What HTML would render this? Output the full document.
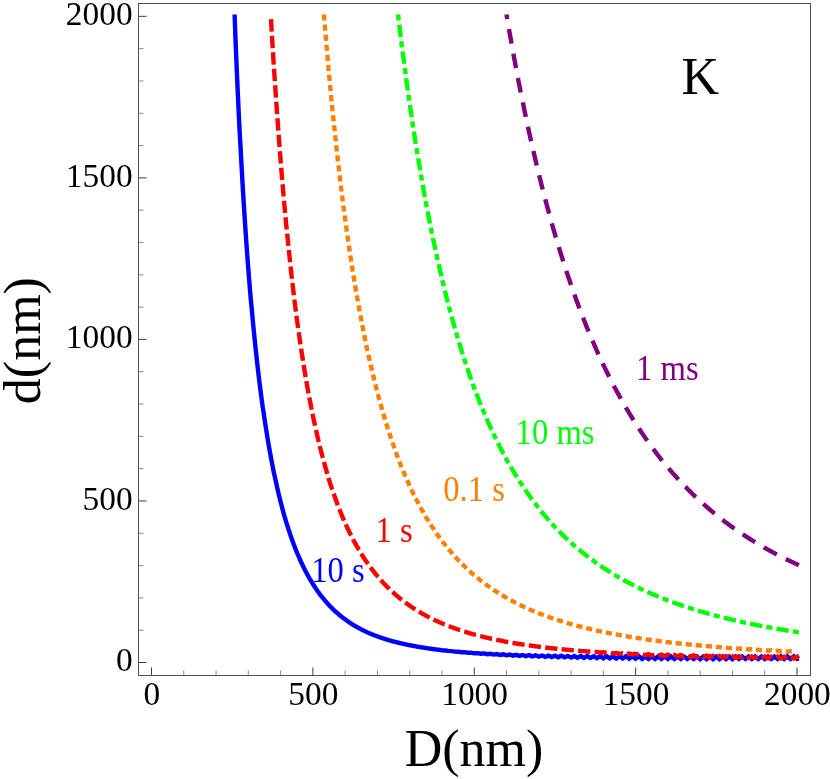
<!DOCTYPE html>
<html><head><meta charset="utf-8"><title>K</title>
<style>
html,body{margin:0;padding:0;background:#fff;}
body{width:830px;height:779px;overflow:hidden;}
svg{display:block;will-change:transform;font-family:"Liberation Serif",serif;}
.mj{stroke:#3c3c3c;stroke-width:1;}
.mn{stroke:#8a8a8a;stroke-width:1;}
.tk{font-size:33px;fill:#000;}
.ax{font-size:52px;fill:#000;}
.cl{font-size:33px;}
.c{fill:none;stroke-width:4.4;stroke-linejoin:miter;}
</style></head><body>
<svg width="830" height="779" viewBox="0 0 830 779">
<rect x="0" y="0" width="830" height="779" fill="#fff"/>
<g>
<line class="mj" x1="138.5" y1="662.50" x2="146.5" y2="662.50"/>
<line class="mn" x1="138.5" y1="630.19" x2="143.5" y2="630.19"/>
<line class="mn" x1="138.5" y1="597.88" x2="143.5" y2="597.88"/>
<line class="mn" x1="138.5" y1="565.58" x2="143.5" y2="565.58"/>
<line class="mn" x1="138.5" y1="533.27" x2="143.5" y2="533.27"/>
<line class="mj" x1="138.5" y1="500.96" x2="146.5" y2="500.96"/>
<line class="mn" x1="138.5" y1="468.65" x2="143.5" y2="468.65"/>
<line class="mn" x1="138.5" y1="436.34" x2="143.5" y2="436.34"/>
<line class="mn" x1="138.5" y1="404.04" x2="143.5" y2="404.04"/>
<line class="mn" x1="138.5" y1="371.73" x2="143.5" y2="371.73"/>
<line class="mj" x1="138.5" y1="339.42" x2="146.5" y2="339.42"/>
<line class="mn" x1="138.5" y1="307.11" x2="143.5" y2="307.11"/>
<line class="mn" x1="138.5" y1="274.80" x2="143.5" y2="274.80"/>
<line class="mn" x1="138.5" y1="242.50" x2="143.5" y2="242.50"/>
<line class="mn" x1="138.5" y1="210.19" x2="143.5" y2="210.19"/>
<line class="mj" x1="138.5" y1="177.88" x2="146.5" y2="177.88"/>
<line class="mn" x1="138.5" y1="145.57" x2="143.5" y2="145.57"/>
<line class="mn" x1="138.5" y1="113.26" x2="143.5" y2="113.26"/>
<line class="mn" x1="138.5" y1="80.96" x2="143.5" y2="80.96"/>
<line class="mn" x1="138.5" y1="48.65" x2="143.5" y2="48.65"/>
<line class="mj" x1="138.5" y1="16.34" x2="146.5" y2="16.34"/>
<line class="mj" x1="151.50" y1="675.5" x2="151.50" y2="667.5"/>
<line class="mn" x1="183.78" y1="675.5" x2="183.78" y2="670.5"/>
<line class="mn" x1="216.05" y1="675.5" x2="216.05" y2="670.5"/>
<line class="mn" x1="248.32" y1="675.5" x2="248.32" y2="670.5"/>
<line class="mn" x1="280.60" y1="675.5" x2="280.60" y2="670.5"/>
<line class="mj" x1="312.88" y1="675.5" x2="312.88" y2="667.5"/>
<line class="mn" x1="345.15" y1="675.5" x2="345.15" y2="670.5"/>
<line class="mn" x1="377.42" y1="675.5" x2="377.42" y2="670.5"/>
<line class="mn" x1="409.70" y1="675.5" x2="409.70" y2="670.5"/>
<line class="mn" x1="441.97" y1="675.5" x2="441.97" y2="670.5"/>
<line class="mj" x1="474.25" y1="675.5" x2="474.25" y2="667.5"/>
<line class="mn" x1="506.52" y1="675.5" x2="506.52" y2="670.5"/>
<line class="mn" x1="538.80" y1="675.5" x2="538.80" y2="670.5"/>
<line class="mn" x1="571.08" y1="675.5" x2="571.08" y2="670.5"/>
<line class="mn" x1="603.35" y1="675.5" x2="603.35" y2="670.5"/>
<line class="mj" x1="635.62" y1="675.5" x2="635.62" y2="667.5"/>
<line class="mn" x1="667.90" y1="675.5" x2="667.90" y2="670.5"/>
<line class="mn" x1="700.17" y1="675.5" x2="700.17" y2="670.5"/>
<line class="mn" x1="732.45" y1="675.5" x2="732.45" y2="670.5"/>
<line class="mn" x1="764.72" y1="675.5" x2="764.72" y2="670.5"/>
<line class="mj" x1="797.00" y1="675.5" x2="797.00" y2="667.5"/>
</g>
<rect x="138.5" y="3.5" width="672.0" height="672.0" fill="none" stroke="#505050" stroke-width="1"/>
<g>
<text class="tk" text-anchor="end" transform="translate(132.6,671.1) scale(1.012,1.05)">0</text>
<text class="tk" text-anchor="middle" transform="translate(151.9,704.9) scale(1.012,1.05)">0</text>
<text class="tk" text-anchor="end" transform="translate(132.6,509.6) scale(1.012,1.05)">500</text>
<text class="tk" text-anchor="middle" transform="translate(313.3,704.9) scale(1.012,1.05)">500</text>
<text class="tk" text-anchor="end" transform="translate(132.6,348.0) scale(1.012,1.05)">1000</text>
<text class="tk" text-anchor="middle" transform="translate(474.6,704.9) scale(1.012,1.05)">1000</text>
<text class="tk" text-anchor="end" transform="translate(132.6,186.5) scale(1.012,1.05)">1500</text>
<text class="tk" text-anchor="middle" transform="translate(636.0,704.9) scale(1.012,1.05)">1500</text>
<text class="tk" text-anchor="end" transform="translate(132.6,24.9) scale(1.012,1.05)">2000</text>
<text class="tk" text-anchor="middle" transform="translate(797.4,704.9) scale(1.012,1.05)">2000</text>
</g>
<text class="ax" text-anchor="middle" x="474" y="765.5">D(nm)</text>
<text class="ax" text-anchor="middle" transform="translate(40.4,340.6) rotate(-90)">d(nm)</text>
<text class="ax" x="681.5" y="94.3">K</text>
<path class="c" stroke="#0000ff" d="M234.6,14.5 L235.4,36.3 L236.2,56.2 L237.0,75.1 L237.8,93.2 L238.6,110.4 L239.4,126.9 L240.3,142.6 L241.1,157.7 L241.9,172.2 L242.7,186.0 L243.5,199.3 L244.3,212.1 L245.1,224.3 L245.9,236.1 L246.7,247.4 L247.5,258.3 L248.3,268.9 L249.1,279.0 L249.9,288.8 L250.7,298.2 L251.6,307.3 L252.4,316.1 L253.2,324.6 L254.0,332.8 L254.8,340.7 L255.6,348.4 L256.4,355.8 L257.2,363.0 L258.0,370.0 L258.8,376.7 L259.6,383.3 L260.4,389.6 L261.2,395.8 L262.0,401.8 L262.8,407.6 L263.7,413.2 L264.5,418.7 L265.3,424.0 L266.1,429.2 L266.9,434.2 L267.7,439.1 L268.5,443.8 L269.3,448.4 L270.1,452.9 L270.9,457.3 L271.7,461.6 L272.5,465.7 L273.3,469.7 L274.1,473.7 L275.0,477.5 L275.8,481.2 L276.6,484.9 L277.4,488.4 L278.2,491.9 L279.0,495.2 L279.8,498.5 L280.6,501.7 L281.4,504.8 L282.2,507.9 L283.0,510.9 L283.8,513.8 L284.6,516.6 L285.4,519.4 L286.2,522.1 L287.1,524.7 L287.9,527.3 L288.7,529.8 L289.5,532.2 L290.3,534.6 L291.1,537.0 L291.9,539.3 L292.7,541.5 L293.5,543.7 L294.3,545.8 L295.1,547.9 L295.9,550.0 L296.7,552.0 L297.5,553.9 L298.4,555.8 L299.2,557.7 L300.0,559.5 L300.8,561.3 L301.6,563.1 L302.4,564.8 L303.2,566.5 L304.0,568.1 L304.8,569.7 L305.6,571.3 L306.4,572.8 L307.2,574.3 L308.0,575.8 L308.8,577.2 L309.6,578.6 L310.5,580.0 L311.3,581.4 L312.1,582.7 L312.9,584.0 L313.7,585.3 L314.5,586.5 L315.3,587.7 L316.1,588.9 L316.9,590.1 L317.7,591.3 L318.5,592.4 L319.3,593.5 L320.1,594.6 L320.9,595.6 L321.8,596.7 L322.6,597.7 L323.4,598.7 L324.2,599.6 L325.0,600.6 L325.8,601.5 L326.6,602.5 L327.4,603.4 L328.2,604.3 L329.0,605.1 L329.8,606.0 L330.6,606.8 L331.4,607.6 L332.2,608.4 L333.0,609.2 L333.9,610.0 L334.7,610.8 L335.5,611.5 L336.3,612.2 L337.1,612.9 L337.9,613.7 L338.7,614.3 L339.5,615.0 L340.3,615.7 L341.1,616.3 L341.9,617.0 L342.7,617.6 L343.5,618.2 L344.3,618.8 L345.2,619.4 L346.0,620.0 L346.8,620.6 L347.6,621.2 L348.4,621.7 L349.2,622.3 L350.0,622.8 L350.8,623.3 L351.6,623.8 L352.4,624.3 L353.2,624.8 L354.0,625.3 L354.8,625.8 L355.6,626.3 L356.4,626.7 L357.3,627.2 L358.1,627.6 L358.9,628.1 L359.7,628.5 L360.5,628.9 L361.3,629.4 L362.1,629.8 L362.9,630.2 L363.7,630.6 L364.5,631.0 L365.3,631.3 L366.1,631.7 L366.9,632.1 L367.7,632.5 L368.5,632.8 L369.4,633.2 L370.2,633.5 L371.0,633.9 L371.8,634.2 L372.6,634.5 L373.4,634.9 L374.2,635.2 L375.0,635.5 L375.8,635.8 L376.6,636.1 L377.4,636.4 L378.2,636.7 L379.0,637.0 L379.8,637.3 L380.7,637.5 L381.5,637.8 L382.3,638.1 L383.1,638.4 L383.9,638.6 L384.7,638.9 L385.5,639.1 L386.3,639.4 L387.1,639.6 L387.9,639.9 L388.7,640.1 L389.5,640.4 L390.3,640.6 L391.1,640.8 L391.9,641.0 L392.8,641.3 L393.6,641.5 L394.4,641.7 L395.2,641.9 L396.0,642.1 L396.8,642.3 L397.6,642.5 L398.4,642.7 L399.2,642.9 L400.0,643.1 L400.8,643.3 L401.6,643.5 L402.4,643.7 L403.2,643.9 L404.1,644.0 L404.9,644.2 L405.7,644.4 L406.5,644.6 L407.3,644.7 L408.1,644.9 L408.9,645.1 L409.7,645.2 L410.5,645.4 L411.3,645.5 L412.1,645.7 L412.9,645.9 L413.7,646.0 L414.5,646.2 L415.3,646.3 L416.2,646.4 L417.0,646.6 L417.8,646.7 L418.6,646.9 L419.4,647.0 L420.2,647.1 L421.0,647.3 L421.8,647.4 L422.6,647.5 L423.4,647.7 L424.2,647.8 L425.0,647.9 L425.8,648.0 L426.6,648.1 L427.5,648.3 L428.3,648.4 L429.1,648.5 L429.9,648.6 L430.7,648.7 L431.5,648.8 L432.3,648.9 L433.1,649.1 L433.9,649.2 L434.7,649.3 L435.5,649.4 L436.3,649.5 L437.1,649.6 L437.9,649.7 L438.7,649.8 L439.6,649.9 L440.4,650.0 L441.2,650.1 L442.0,650.2 L445.2,650.5 L448.4,650.9 L451.7,651.1 L454.9,651.6 L458.1,651.7 L461.3,652.2 L464.6,652.2 L467.8,652.8 L471.0,652.6 L474.2,653.3 L477.5,653.1 L480.7,653.7 L483.9,653.4 L487.2,654.2 L490.4,653.8 L493.6,654.6 L496.8,654.1 L500.1,654.9 L503.3,654.3 L506.5,655.3 L509.8,654.6 L513.0,655.6 L516.2,654.8 L519.4,655.9 L522.7,655.0 L525.9,656.2 L529.1,655.2 L532.3,656.4 L535.6,655.3 L538.8,656.6 L542.0,655.5 L545.3,656.9 L548.5,655.6 L551.7,657.1 L554.9,655.7 L558.2,657.3 L561.4,655.8 L564.6,657.4 L567.8,655.9 L571.1,657.6 L574.3,656.0 L577.5,657.8 L580.8,656.0 L584.0,657.9 L587.2,656.1 L590.4,658.0 L593.7,656.2 L596.9,658.2 L600.1,656.2 L603.3,658.3 L606.6,656.2 L609.8,658.4 L613.0,656.3 L616.3,658.5 L619.5,656.3 L622.7,658.6 L625.9,656.3 L629.2,658.7 L632.4,656.3 L635.6,658.8 L638.9,656.3 L642.1,658.9 L645.3,656.4 L648.5,658.9 L651.8,656.4 L655.0,658.9 L658.2,656.4 L661.4,659.0 L664.7,656.5 L667.9,659.0 L671.1,656.5 L674.4,659.0 L677.6,656.5 L680.8,659.0 L684.0,656.5 L687.3,659.0 L690.5,656.5 L693.7,659.0 L696.9,656.6 L700.2,659.1 L703.4,656.6 L706.6,659.1 L709.9,656.6 L713.1,659.1 L716.3,656.6 L719.5,659.1 L722.8,656.6 L726.0,659.1 L729.2,656.6 L732.4,659.1 L735.7,656.5 L738.9,659.0 L742.1,656.5 L745.4,659.0 L748.6,656.5 L751.8,659.0 L755.0,656.5 L758.3,659.0 L761.5,656.5 L764.7,659.0 L768.0,656.5 L771.2,659.0 L774.4,656.5 L777.6,658.9 L780.9,656.4 L784.1,658.9 L787.3,656.4 L790.5,658.9 L793.8,656.4 L797.0,658.9 L799.0,658.6"/>
<path class="c" stroke="#ff0000" stroke-dasharray="12.305 4.236" stroke-dashoffset="12.305" d="M270.8,15.0 L271.7,31.6 L272.5,44.9 L273.3,57.9 L274.1,70.5 L275.0,82.8 L275.8,94.8 L276.6,106.4 L277.4,117.8 L278.2,128.8 L279.0,139.5 L279.8,150.0 L280.6,160.2 L281.4,170.1 L282.2,179.8 L283.0,189.2 L283.8,198.4 L284.6,207.3 L285.4,216.0 L286.2,224.5 L287.1,232.8 L287.9,240.9 L288.7,248.8 L289.5,256.5 L290.3,264.0 L291.1,271.3 L291.9,278.4 L292.7,285.4 L293.5,292.2 L294.3,298.8 L295.1,305.3 L295.9,311.6 L296.7,317.7 L297.5,323.8 L298.4,329.7 L299.2,335.4 L300.0,341.0 L300.8,346.5 L301.6,351.9 L302.4,357.1 L303.2,362.2 L304.0,367.2 L304.8,372.1 L305.6,376.9 L306.4,381.6 L307.2,386.2 L308.0,390.7 L308.8,395.1 L309.6,399.3 L310.5,403.5 L311.3,407.7 L312.1,411.7 L312.9,415.6 L313.7,419.5 L314.5,423.2 L315.3,426.9 L316.1,430.5 L316.9,434.1 L317.7,437.6 L318.5,441.0 L319.3,444.3 L320.1,447.5 L320.9,450.7 L321.8,453.9 L322.6,457.0 L323.4,460.0 L324.2,462.9 L325.0,465.8 L325.8,468.7 L326.6,471.4 L327.4,474.2 L328.2,476.8 L329.0,479.5 L329.8,482.1 L330.6,484.6 L331.4,487.1 L332.2,489.5 L333.0,491.9 L333.9,494.2 L334.7,496.5 L335.5,498.8 L336.3,501.0 L337.1,503.2 L337.9,505.4 L338.7,507.5 L339.5,509.5 L340.3,511.6 L341.1,513.5 L341.9,515.5 L342.7,517.4 L343.5,519.3 L344.3,521.2 L345.2,523.0 L346.0,524.8 L346.8,526.6 L347.6,528.3 L348.4,530.0 L349.2,531.7 L350.0,533.3 L350.8,535.0 L351.6,536.6 L352.4,538.1 L353.2,539.7 L354.0,541.2 L354.8,542.7 L355.6,544.1 L356.4,545.6 L357.3,547.0 L358.1,548.4 L358.9,549.8 L359.7,551.1 L360.5,552.5 L361.3,553.8 L362.1,555.1 L362.9,556.3 L363.7,557.6 L364.5,558.8 L365.3,560.0 L366.1,561.2 L366.9,562.4 L367.7,563.6 L368.5,564.7 L369.4,565.8 L370.2,566.9 L371.0,568.0 L371.8,569.1 L372.6,570.2 L373.4,571.2 L374.2,572.2 L375.0,573.2 L375.8,574.2 L376.6,575.2 L377.4,576.2 L378.2,577.1 L379.0,578.1 L379.8,579.0 L380.7,579.9 L381.5,580.8 L382.3,581.7 L383.1,582.6 L383.9,583.5 L384.7,584.3 L385.5,585.1 L386.3,586.0 L387.1,586.8 L387.9,587.6 L388.7,588.4 L389.5,589.2 L390.3,589.9 L391.1,590.7 L391.9,591.5 L392.8,592.2 L393.6,592.9 L394.4,593.6 L395.2,594.4 L396.0,595.1 L396.8,595.8 L397.6,596.4 L398.4,597.1 L399.2,597.8 L400.0,598.4 L400.8,599.1 L401.6,599.7 L402.4,600.4 L403.2,601.0 L404.1,601.6 L404.9,602.2 L405.7,602.8 L406.5,603.4 L407.3,604.0 L408.1,604.5 L408.9,605.1 L409.7,605.7 L410.5,606.2 L411.3,606.8 L412.1,607.3 L412.9,607.9 L413.7,608.4 L414.5,608.9 L415.3,609.4 L416.2,609.9 L417.0,610.4 L417.8,610.9 L418.6,611.4 L419.4,611.9 L420.2,612.4 L421.0,612.9 L421.8,613.3 L422.6,613.8 L423.4,614.2 L424.2,614.7 L425.0,615.1 L425.8,615.6 L426.6,616.0 L427.5,616.4 L428.3,616.8 L429.1,617.3 L429.9,617.7 L430.7,618.1 L431.5,618.5 L432.3,618.9 L433.1,619.3 L433.9,619.7 L434.7,620.1 L435.5,620.4 L436.3,620.8 L437.1,621.2 L437.9,621.6 L438.7,621.9 L439.6,622.3 L440.4,622.6 L441.2,623.0 L442.0,623.3 L442.8,623.7 L443.6,624.0 L444.4,624.4 L445.2,624.7 L446.0,625.0 L446.8,625.3 L447.6,625.7 L448.4,626.0 L449.2,626.3 L450.0,626.6 L450.9,626.9 L451.7,627.2 L452.5,627.5 L453.3,627.8 L454.1,628.1 L454.9,628.4 L455.7,628.7 L456.5,629.0 L457.3,629.2 L458.1,629.5 L458.9,629.8 L459.7,630.1 L460.5,630.3 L461.3,630.6 L462.1,630.9 L463.0,631.1 L463.8,631.4 L464.6,631.6 L465.4,631.9 L466.2,632.1 L467.0,632.4 L467.8,632.6 L468.6,632.9 L469.4,633.1 L470.2,633.3 L471.0,633.6 L471.8,633.8 L472.6,634.0 L473.4,634.3 L474.2,634.5 L475.1,634.7 L475.9,634.9 L476.7,635.1 L477.5,635.3 L478.3,635.6 L479.1,635.8 L479.9,636.0 L480.7,636.2 L481.5,636.4 L482.3,636.6 L483.1,636.8 L483.9,637.0 L484.7,637.2 L485.5,637.4 L486.4,637.6 L487.2,637.8 L488.0,637.9 L488.8,638.1 L489.6,638.3 L490.4,638.5 L491.2,638.7 L492.0,638.9 L492.8,639.0 L493.6,639.2 L494.4,639.4 L495.2,639.6 L496.0,639.7 L496.8,639.9 L497.6,640.1 L498.5,640.2 L499.3,640.4 L500.1,640.5 L500.9,640.7 L501.7,640.9 L502.5,641.0 L503.3,641.2 L504.1,641.3 L504.9,641.5 L505.7,641.6 L506.5,641.8 L507.3,641.9 L508.1,642.1 L508.9,642.2 L509.8,642.4 L510.6,642.5 L511.4,642.7 L512.2,642.8 L513.0,642.9 L513.8,643.1 L514.6,643.2 L515.4,643.3 L516.2,643.5 L517.0,643.6 L517.8,643.7 L518.6,643.9 L519.4,644.0 L520.2,644.1 L521.0,644.2 L521.9,644.4 L522.7,644.5 L523.5,644.6 L524.3,644.7 L525.1,644.8 L525.9,645.0 L526.7,645.1 L527.5,645.2 L528.3,645.3 L529.1,645.4 L529.9,645.5 L530.7,645.7 L531.5,645.8 L532.3,645.9 L533.2,646.0 L534.0,646.1 L534.8,646.2 L535.6,646.3 L536.4,646.4 L537.2,646.5 L538.0,646.6 L538.8,646.7 L539.6,646.8 L540.4,646.9 L541.2,647.0 L542.0,647.1 L542.8,647.2 L543.6,647.3 L544.4,647.4 L545.3,647.5 L546.1,647.6 L546.9,647.7 L547.7,647.8 L548.5,647.9 L549.3,648.0 L550.1,648.1 L550.9,648.1 L551.7,648.2 L552.5,648.3 L553.3,648.4 L554.1,648.5 L554.9,648.6 L555.7,648.7 L556.6,648.7 L557.4,648.8 L558.2,648.9 L559.0,649.0 L559.8,649.1 L560.6,649.1 L561.4,649.2 L562.2,649.3 L563.0,649.4 L563.8,649.5 L564.6,649.5 L565.4,649.6 L566.2,649.7 L567.0,649.8 L567.8,649.8 L568.7,649.9 L569.5,650.0 L570.3,650.1 L571.1,650.1 L574.3,650.4 L577.5,650.6 L580.8,651.0 L584.0,651.1 L587.2,651.5 L590.4,651.5 L593.7,652.1 L596.9,651.9 L600.1,652.5 L603.3,652.3 L606.6,653.0 L609.8,652.6 L613.0,653.4 L616.3,652.9 L619.5,653.8 L622.7,653.2 L625.9,654.2 L629.2,653.5 L632.4,654.5 L635.6,653.7 L638.9,654.9 L642.1,654.0 L645.3,655.2 L648.5,654.2 L651.8,655.5 L655.0,654.4 L658.2,655.8 L661.4,654.6 L664.7,656.0 L667.9,654.7 L671.1,656.3 L674.4,654.9 L677.6,656.5 L680.8,655.0 L684.0,656.8 L687.3,655.2 L690.5,656.9 L693.7,655.3 L696.9,657.1 L700.2,655.5 L703.4,657.2 L706.6,655.6 L709.9,657.4 L713.1,655.7 L716.3,657.5 L719.5,655.9 L722.8,657.6 L726.0,656.0 L729.2,657.7 L732.4,656.1 L735.7,657.8 L738.9,656.2 L742.1,657.9 L745.4,656.3 L748.6,658.0 L751.8,656.4 L755.0,658.1 L758.3,656.4 L761.5,658.2 L764.7,656.5 L768.0,658.2 L771.2,656.6 L774.4,658.3 L777.6,656.6 L780.9,658.4 L784.1,656.7 L787.3,658.4 L790.5,656.7 L793.8,658.5 L797.0,656.8 L799.0,655.6"/>
<path class="c" stroke="#ff8000" stroke-dasharray="6.202 3.901" stroke-dashoffset="0.000" d="M323.9,14.5 L325.0,27.4 L325.8,37.0 L326.6,46.5 L327.4,55.7 L328.2,64.8 L329.0,73.7 L329.8,82.4 L330.6,90.9 L331.4,99.3 L332.2,107.5 L333.0,115.5 L333.9,123.4 L334.7,131.1 L335.5,138.7 L336.3,146.1 L337.1,153.4 L337.9,160.6 L338.7,167.6 L339.5,174.5 L340.3,181.2 L341.1,187.9 L341.9,194.4 L342.7,200.8 L343.5,207.0 L344.3,213.2 L345.2,219.2 L346.0,225.2 L346.8,231.0 L347.6,236.7 L348.4,242.3 L349.2,247.9 L350.0,253.3 L350.8,258.6 L351.6,263.9 L352.4,269.0 L353.2,274.1 L354.0,279.0 L354.8,283.9 L355.6,288.7 L356.4,293.4 L357.3,298.1 L358.1,302.6 L358.9,307.1 L359.7,311.5 L360.5,315.9 L361.3,320.1 L362.1,324.3 L362.9,328.5 L363.7,332.5 L364.5,336.5 L365.3,340.5 L366.1,344.3 L366.9,348.1 L367.7,351.9 L368.5,355.6 L369.4,359.2 L370.2,362.7 L371.0,366.3 L371.8,369.7 L372.6,373.1 L373.4,376.5 L374.2,379.8 L375.0,383.0 L375.8,386.2 L376.6,389.4 L377.4,392.5 L378.2,395.5 L379.0,398.5 L379.8,401.5 L380.7,404.4 L381.5,407.3 L382.3,410.1 L383.1,412.9 L383.9,415.7 L384.7,418.4 L385.5,421.1 L386.3,423.7 L387.1,426.3 L387.9,428.9 L388.7,431.4 L389.5,433.9 L390.3,436.3 L391.1,438.7 L391.9,441.1 L392.8,443.4 L393.6,445.8 L394.4,448.0 L395.2,450.3 L396.0,452.5 L396.8,454.7 L397.6,456.9 L398.4,459.0 L399.2,461.1 L400.0,463.1 L400.8,465.2 L401.6,467.2 L402.4,469.2 L403.2,471.1 L404.1,473.1 L404.9,475.0 L405.7,476.9 L406.5,478.7 L407.3,480.6 L408.1,482.4 L408.9,484.2 L409.7,485.9 L410.5,487.7 L411.3,489.4 L412.1,491.1 L412.9,492.7 L413.7,494.4 L414.5,496.0 L415.3,497.6 L416.2,499.2 L417.0,500.8 L417.8,502.3 L418.6,503.8 L419.4,505.4 L420.2,506.8 L421.0,508.3 L421.8,509.8 L422.6,511.2 L423.4,512.6 L424.2,514.0 L425.0,515.4 L425.8,516.8 L426.6,518.1 L427.5,519.4 L428.3,520.8 L429.1,522.1 L429.9,523.3 L430.7,524.6 L431.5,525.9 L432.3,527.1 L433.1,528.3 L433.9,529.5 L434.7,530.7 L435.5,531.9 L436.3,533.1 L437.1,534.2 L437.9,535.4 L438.7,536.5 L439.6,537.6 L440.4,538.7 L441.2,539.8 L442.0,540.8 L442.8,541.9 L443.6,543.0 L444.4,544.0 L445.2,545.0 L446.0,546.0 L446.8,547.0 L447.6,548.0 L448.4,549.0 L449.2,550.0 L450.0,550.9 L450.9,551.9 L451.7,552.8 L452.5,553.7 L453.3,554.7 L454.1,555.6 L454.9,556.5 L455.7,557.3 L456.5,558.2 L457.3,559.1 L458.1,559.9 L458.9,560.8 L459.7,561.6 L460.5,562.4 L461.3,563.3 L462.1,564.1 L463.0,564.9 L463.8,565.7 L464.6,566.5 L465.4,567.2 L466.2,568.0 L467.0,568.8 L467.8,569.5 L468.6,570.3 L469.4,571.0 L470.2,571.7 L471.0,572.4 L471.8,573.1 L472.6,573.9 L473.4,574.6 L474.2,575.2 L475.1,575.9 L475.9,576.6 L476.7,577.3 L477.5,577.9 L478.3,578.6 L479.1,579.2 L479.9,579.9 L480.7,580.5 L481.5,581.1 L482.3,581.8 L483.1,582.4 L483.9,583.0 L484.7,583.6 L485.5,584.2 L486.4,584.8 L487.2,585.4 L488.0,586.0 L488.8,586.5 L489.6,587.1 L490.4,587.7 L491.2,588.2 L492.0,588.8 L492.8,589.3 L493.6,589.9 L494.4,590.4 L495.2,590.9 L496.0,591.4 L496.8,592.0 L497.6,592.5 L498.5,593.0 L499.3,593.5 L500.1,594.0 L500.9,594.5 L501.7,595.0 L502.5,595.5 L503.3,596.0 L504.1,596.4 L504.9,596.9 L505.7,597.4 L506.5,597.8 L507.3,598.3 L508.1,598.7 L508.9,599.2 L509.8,599.6 L510.6,600.1 L511.4,600.5 L512.2,601.0 L513.0,601.4 L513.8,601.8 L514.6,602.2 L515.4,602.7 L516.2,603.1 L517.0,603.5 L517.8,603.9 L518.6,604.3 L519.4,604.7 L520.2,605.1 L521.0,605.5 L521.9,605.9 L522.7,606.2 L523.5,606.6 L524.3,607.0 L525.1,607.4 L525.9,607.8 L526.7,608.1 L527.5,608.5 L528.3,608.8 L529.1,609.2 L529.9,609.6 L530.7,609.9 L531.5,610.3 L532.3,610.6 L533.2,610.9 L534.0,611.3 L534.8,611.6 L535.6,612.0 L536.4,612.3 L537.2,612.6 L538.0,612.9 L538.8,613.3 L539.6,613.6 L540.4,613.9 L541.2,614.2 L542.0,614.5 L542.8,614.8 L543.6,615.1 L544.4,615.4 L545.3,615.7 L546.1,616.0 L546.9,616.3 L547.7,616.6 L548.5,616.9 L549.3,617.2 L550.1,617.5 L550.9,617.8 L551.7,618.0 L552.5,618.3 L553.3,618.6 L554.1,618.9 L554.9,619.1 L555.7,619.4 L556.6,619.7 L557.4,619.9 L558.2,620.2 L559.0,620.5 L559.8,620.7 L560.6,621.0 L561.4,621.2 L562.2,621.5 L563.0,621.7 L563.8,622.0 L564.6,622.2 L565.4,622.5 L566.2,622.7 L567.0,623.0 L567.8,623.2 L568.7,623.4 L569.5,623.7 L570.3,623.9 L571.1,624.1 L571.9,624.3 L572.7,624.6 L573.5,624.8 L574.3,625.0 L575.1,625.2 L575.9,625.5 L576.7,625.7 L577.5,625.9 L578.3,626.1 L579.1,626.3 L580.0,626.5 L580.8,626.7 L581.6,626.9 L582.4,627.2 L583.2,627.4 L584.0,627.6 L584.8,627.8 L585.6,628.0 L586.4,628.2 L587.2,628.4 L588.0,628.5 L588.8,628.7 L589.6,628.9 L590.4,629.1 L591.2,629.3 L592.1,629.5 L592.9,629.7 L593.7,629.9 L594.5,630.1 L595.3,630.2 L596.1,630.4 L596.9,630.6 L597.7,630.8 L598.5,630.9 L599.3,631.1 L600.1,631.3 L600.9,631.5 L601.7,631.6 L602.5,631.8 L603.3,632.0 L604.2,632.1 L605.0,632.3 L605.8,632.5 L606.6,632.6 L607.4,632.8 L608.2,633.0 L609.0,633.1 L609.8,633.3 L610.6,633.4 L611.4,633.6 L612.2,633.7 L613.0,633.9 L613.8,634.1 L614.6,634.2 L615.5,634.4 L616.3,634.5 L617.1,634.7 L617.9,634.8 L618.7,635.0 L619.5,635.1 L620.3,635.2 L621.1,635.4 L621.9,635.5 L622.7,635.7 L623.5,635.8 L624.3,635.9 L625.1,636.1 L625.9,636.2 L626.7,636.4 L627.6,636.5 L628.4,636.6 L629.2,636.8 L630.0,636.9 L630.8,637.0 L631.6,637.2 L632.4,637.3 L633.2,637.4 L634.0,637.5 L634.8,637.7 L635.6,637.8 L636.4,637.9 L637.2,638.0 L638.0,638.2 L638.9,638.3 L639.7,638.4 L640.5,638.5 L641.3,638.6 L642.1,638.8 L642.9,638.9 L643.7,639.0 L644.5,639.1 L645.3,639.2 L646.1,639.4 L646.9,639.5 L647.7,639.6 L648.5,639.7 L649.3,639.8 L650.1,639.9 L651.0,640.0 L651.8,640.1 L652.6,640.2 L653.4,640.4 L654.2,640.5 L655.0,640.6 L655.8,640.7 L656.6,640.8 L657.4,640.9 L658.2,641.0 L659.0,641.1 L659.8,641.2 L660.6,641.3 L661.4,641.4 L662.3,641.5 L663.1,641.6 L663.9,641.7 L664.7,641.8 L665.5,641.9 L666.3,642.0 L667.1,642.1 L667.9,642.2 L668.7,642.3 L669.5,642.4 L670.3,642.5 L671.1,642.6 L671.9,642.6 L672.7,642.7 L673.5,642.8 L674.4,642.9 L675.2,643.0 L676.0,643.1 L676.8,643.2 L677.6,643.3 L678.4,643.4 L679.2,643.5 L680.0,643.5 L680.8,643.6 L681.6,643.7 L682.4,643.8 L683.2,643.9 L684.0,644.0 L684.8,644.1 L685.7,644.1 L686.5,644.2 L687.3,644.3 L688.1,644.4 L688.9,644.5 L689.7,644.5 L690.5,644.6 L691.3,644.7 L692.1,644.8 L692.9,644.9 L693.7,644.9 L694.5,645.0 L695.3,645.1 L696.1,645.2 L696.9,645.2 L697.8,645.3 L698.6,645.4 L699.4,645.5 L700.2,645.5 L703.4,645.9 L706.6,646.1 L709.9,646.4 L713.1,646.6 L716.3,647.0 L719.5,647.1 L722.8,647.6 L726.0,647.6 L729.2,648.1 L732.4,648.0 L735.7,648.6 L738.9,648.4 L742.1,649.0 L745.4,648.8 L748.6,649.5 L751.8,649.2 L755.0,649.9 L758.3,649.6 L761.5,650.3 L764.7,649.9 L768.0,650.7 L771.2,650.3 L774.4,651.1 L777.6,650.7 L780.9,651.4 L784.1,651.0 L787.3,651.7 L790.5,651.3 L791.8,651.3"/>
<path class="c" stroke="#00ff00" stroke-dasharray="12.322 4.242 6.161 4.242" stroke-dashoffset="16.564" d="M398.0,14.5 L398.4,17.6 L399.2,24.3 L400.0,30.9 L400.8,37.5 L401.6,43.9 L402.4,50.2 L403.2,56.5 L404.1,62.7 L404.9,68.8 L405.7,74.8 L406.5,80.7 L407.3,86.6 L408.1,92.4 L408.9,98.1 L409.7,103.7 L410.5,109.3 L411.3,114.7 L412.1,120.1 L412.9,125.5 L413.7,130.7 L414.5,135.9 L415.3,141.1 L416.2,146.1 L417.0,151.1 L417.8,156.1 L418.6,160.9 L419.4,165.7 L420.2,170.5 L421.0,175.2 L421.8,179.8 L422.6,184.4 L423.4,188.9 L424.2,193.3 L425.0,197.7 L425.8,202.1 L426.6,206.4 L427.5,210.6 L428.3,214.8 L429.1,218.9 L429.9,223.0 L430.7,227.1 L431.5,231.1 L432.3,235.0 L433.1,238.9 L433.9,242.7 L434.7,246.5 L435.5,250.3 L436.3,254.0 L437.1,257.6 L437.9,261.3 L438.7,264.8 L439.6,268.4 L440.4,271.9 L441.2,275.3 L442.0,278.7 L442.8,282.1 L443.6,285.4 L444.4,288.7 L445.2,292.0 L446.0,295.2 L446.8,298.4 L447.6,301.5 L448.4,304.6 L449.2,307.7 L450.0,310.8 L450.9,313.8 L451.7,316.7 L452.5,319.7 L453.3,322.6 L454.1,325.4 L454.9,328.3 L455.7,331.1 L456.5,333.9 L457.3,336.6 L458.1,339.3 L458.9,342.0 L459.7,344.7 L460.5,347.3 L461.3,349.9 L462.1,352.5 L463.0,355.0 L463.8,357.5 L464.6,360.0 L465.4,362.5 L466.2,364.9 L467.0,367.3 L467.8,369.7 L468.6,372.1 L469.4,374.4 L470.2,376.7 L471.0,379.0 L471.8,381.2 L472.6,383.5 L473.4,385.7 L474.2,387.9 L475.1,390.0 L475.9,392.2 L476.7,394.3 L477.5,396.4 L478.3,398.5 L479.1,400.5 L479.9,402.6 L480.7,404.6 L481.5,406.6 L482.3,408.5 L483.1,410.5 L483.9,412.4 L484.7,414.3 L485.5,416.2 L486.4,418.1 L487.2,420.0 L488.0,421.8 L488.8,423.6 L489.6,425.4 L490.4,427.2 L491.2,429.0 L492.0,430.7 L492.8,432.5 L493.6,434.2 L494.4,435.9 L495.2,437.5 L496.0,439.2 L496.8,440.9 L497.6,442.5 L498.5,444.1 L499.3,445.7 L500.1,447.3 L500.9,448.9 L501.7,450.4 L502.5,451.9 L503.3,453.5 L504.1,455.0 L504.9,456.5 L505.7,458.0 L506.5,459.4 L507.3,460.9 L508.1,462.3 L508.9,463.7 L509.8,465.2 L510.6,466.6 L511.4,467.9 L512.2,469.3 L513.0,470.7 L513.8,472.0 L514.6,473.4 L515.4,474.7 L516.2,476.0 L517.0,477.3 L517.8,478.6 L518.6,479.9 L519.4,481.1 L520.2,482.4 L521.0,483.6 L521.9,484.8 L522.7,486.1 L523.5,487.3 L524.3,488.5 L525.1,489.6 L525.9,490.8 L526.7,492.0 L527.5,493.1 L528.3,494.3 L529.1,495.4 L529.9,496.5 L530.7,497.7 L531.5,498.8 L532.3,499.9 L533.2,500.9 L534.0,502.0 L534.8,503.1 L535.6,504.1 L536.4,505.2 L537.2,506.2 L538.0,507.2 L538.8,508.3 L539.6,509.3 L540.4,510.3 L541.2,511.3 L542.0,512.3 L542.8,513.2 L543.6,514.2 L544.4,515.2 L545.3,516.1 L546.1,517.1 L546.9,518.0 L547.7,518.9 L548.5,519.8 L549.3,520.8 L550.1,521.7 L550.9,522.6 L551.7,523.5 L552.5,524.3 L553.3,525.2 L554.1,526.1 L554.9,526.9 L555.7,527.8 L556.6,528.6 L557.4,529.5 L558.2,530.3 L559.0,531.1 L559.8,532.0 L560.6,532.8 L561.4,533.6 L562.2,534.4 L563.0,535.2 L563.8,535.9 L564.6,536.7 L565.4,537.5 L566.2,538.3 L567.0,539.0 L567.8,539.8 L568.7,540.5 L569.5,541.3 L570.3,542.0 L571.1,542.7 L571.9,543.5 L572.7,544.2 L573.5,544.9 L574.3,545.6 L575.1,546.3 L575.9,547.0 L576.7,547.7 L577.5,548.4 L578.3,549.1 L579.1,549.7 L580.0,550.4 L580.8,551.1 L581.6,551.7 L582.4,552.4 L583.2,553.0 L584.0,553.7 L584.8,554.3 L585.6,555.0 L586.4,555.6 L587.2,556.2 L588.0,556.8 L588.8,557.4 L589.6,558.1 L590.4,558.7 L591.2,559.3 L592.1,559.9 L592.9,560.4 L593.7,561.0 L594.5,561.6 L595.3,562.2 L596.1,562.8 L596.9,563.3 L597.7,563.9 L598.5,564.5 L599.3,565.0 L600.1,565.6 L600.9,566.1 L601.7,566.7 L602.5,567.2 L603.3,567.8 L604.2,568.3 L605.0,568.8 L605.8,569.3 L606.6,569.9 L607.4,570.4 L608.2,570.9 L609.0,571.4 L609.8,571.9 L610.6,572.4 L611.4,572.9 L612.2,573.4 L613.0,573.9 L613.8,574.4 L614.6,574.9 L615.5,575.4 L616.3,575.8 L617.1,576.3 L617.9,576.8 L618.7,577.2 L619.5,577.7 L620.3,578.2 L621.1,578.6 L621.9,579.1 L622.7,579.5 L623.5,580.0 L624.3,580.4 L625.1,580.9 L625.9,581.3 L626.7,581.7 L627.6,582.2 L628.4,582.6 L629.2,583.0 L630.0,583.4 L630.8,583.9 L631.6,584.3 L632.4,584.7 L633.2,585.1 L634.0,585.5 L634.8,585.9 L635.6,586.3 L636.4,586.7 L637.2,587.1 L638.0,587.5 L638.9,587.9 L639.7,588.3 L640.5,588.7 L641.3,589.1 L642.1,589.5 L642.9,589.8 L643.7,590.2 L644.5,590.6 L645.3,591.0 L646.1,591.3 L646.9,591.7 L647.7,592.1 L648.5,592.4 L649.3,592.8 L650.1,593.1 L651.0,593.5 L651.8,593.8 L652.6,594.2 L653.4,594.5 L654.2,594.9 L655.0,595.2 L655.8,595.6 L656.6,595.9 L657.4,596.2 L658.2,596.6 L659.0,596.9 L659.8,597.2 L660.6,597.6 L661.4,597.9 L662.3,598.2 L663.1,598.5 L663.9,598.9 L664.7,599.2 L665.5,599.5 L666.3,599.8 L667.1,600.1 L667.9,600.4 L668.7,600.7 L669.5,601.0 L670.3,601.3 L671.1,601.6 L671.9,601.9 L672.7,602.2 L673.5,602.5 L674.4,602.8 L675.2,603.1 L676.0,603.4 L676.8,603.7 L677.6,604.0 L678.4,604.3 L679.2,604.5 L680.0,604.8 L680.8,605.1 L681.6,605.4 L682.4,605.6 L683.2,605.9 L684.0,606.2 L684.8,606.5 L685.7,606.7 L686.5,607.0 L687.3,607.3 L688.1,607.5 L688.9,607.8 L689.7,608.0 L690.5,608.3 L691.3,608.6 L692.1,608.8 L692.9,609.1 L693.7,609.3 L694.5,609.6 L695.3,609.8 L696.1,610.1 L696.9,610.3 L697.8,610.6 L698.6,610.8 L699.4,611.0 L700.2,611.3 L701.0,611.5 L701.8,611.8 L702.6,612.0 L703.4,612.2 L704.2,612.5 L705.0,612.7 L705.8,612.9 L706.6,613.1 L707.4,613.4 L708.2,613.6 L709.1,613.8 L709.9,614.0 L710.7,614.3 L711.5,614.5 L712.3,614.7 L713.1,614.9 L713.9,615.1 L714.7,615.4 L715.5,615.6 L716.3,615.8 L717.1,616.0 L717.9,616.2 L718.7,616.4 L719.5,616.6 L720.3,616.8 L721.2,617.0 L722.0,617.2 L722.8,617.4 L723.6,617.6 L724.4,617.8 L725.2,618.0 L726.0,618.2 L726.8,618.4 L727.6,618.6 L728.4,618.8 L729.2,619.0 L730.0,619.2 L730.8,619.4 L731.6,619.6 L732.4,619.8 L733.3,620.0 L734.1,620.2 L734.9,620.4 L735.7,620.5 L736.5,620.7 L737.3,620.9 L738.1,621.1 L738.9,621.3 L739.7,621.4 L740.5,621.6 L741.3,621.8 L742.1,622.0 L742.9,622.2 L743.7,622.3 L744.6,622.5 L745.4,622.7 L746.2,622.8 L747.0,623.0 L747.8,623.2 L748.6,623.4 L749.4,623.5 L750.2,623.7 L751.0,623.9 L751.8,624.0 L752.6,624.2 L753.4,624.4 L754.2,624.5 L755.0,624.7 L755.8,624.8 L756.7,625.0 L757.5,625.2 L758.3,625.3 L759.1,625.5 L759.9,625.6 L760.7,625.8 L761.5,625.9 L762.3,626.1 L763.1,626.2 L763.9,626.4 L764.7,626.5 L765.5,626.7 L766.3,626.8 L767.1,627.0 L768.0,627.1 L768.8,627.3 L769.6,627.4 L770.4,627.6 L771.2,627.7 L772.0,627.9 L772.8,628.0 L773.6,628.2 L774.4,628.3 L775.2,628.4 L776.0,628.6 L776.8,628.7 L777.6,628.9 L778.4,629.0 L779.2,629.1 L780.1,629.3 L780.9,629.4 L781.7,629.5 L782.5,629.7 L783.3,629.8 L784.1,629.9 L784.9,630.1 L785.7,630.2 L786.5,630.3 L787.3,630.5 L788.1,630.6 L788.9,630.7 L789.7,630.9 L790.5,631.0 L791.4,631.1 L792.2,631.2 L793.0,631.4 L793.8,631.5 L794.6,631.6 L795.4,631.7 L796.2,631.9 L797.0,632.0 L799.0,632.2"/>
<path class="c" stroke="#800080" stroke-dasharray="14.844 10.030" stroke-dashoffset="10.130" d="M506.5,14.5 L507.3,19.7 L508.1,24.4 L508.9,29.0 L509.8,33.7 L510.6,38.2 L511.4,42.8 L512.2,47.2 L513.0,51.7 L513.8,56.1 L514.6,60.4 L515.4,64.7 L516.2,69.0 L517.0,73.2 L517.8,77.4 L518.6,81.6 L519.4,85.7 L520.2,89.8 L521.0,93.8 L521.9,97.8 L522.7,101.8 L523.5,105.7 L524.3,109.6 L525.1,113.5 L525.9,117.3 L526.7,121.1 L527.5,124.8 L528.3,128.5 L529.1,132.2 L529.9,135.9 L530.7,139.5 L531.5,143.1 L532.3,146.6 L533.2,150.1 L534.0,153.6 L534.8,157.1 L535.6,160.5 L536.4,163.9 L537.2,167.3 L538.0,170.6 L538.8,173.9 L539.6,177.2 L540.4,180.4 L541.2,183.6 L542.0,186.8 L542.8,190.0 L543.6,193.1 L544.4,196.2 L545.3,199.3 L546.1,202.4 L546.9,205.4 L547.7,208.4 L548.5,211.3 L549.3,214.3 L550.1,217.2 L550.9,220.1 L551.7,223.0 L552.5,225.8 L553.3,228.6 L554.1,231.4 L554.9,234.2 L555.7,237.0 L556.6,239.7 L557.4,242.4 L558.2,245.1 L559.0,247.7 L559.8,250.4 L560.6,253.0 L561.4,255.6 L562.2,258.1 L563.0,260.7 L563.8,263.2 L564.6,265.7 L565.4,268.2 L566.2,270.7 L567.0,273.1 L567.8,275.5 L568.7,277.9 L569.5,280.3 L570.3,282.7 L571.1,285.0 L571.9,287.3 L572.7,289.6 L573.5,291.9 L574.3,294.2 L575.1,296.4 L575.9,298.7 L576.7,300.9 L577.5,303.1 L578.3,305.3 L579.1,307.4 L580.0,309.6 L580.8,311.7 L581.6,313.8 L582.4,315.9 L583.2,317.9 L584.0,320.0 L584.8,322.0 L585.6,324.1 L586.4,326.1 L587.2,328.1 L588.0,330.0 L588.8,332.0 L589.6,334.0 L590.4,335.9 L591.2,337.8 L592.1,339.7 L592.9,341.6 L593.7,343.5 L594.5,345.3 L595.3,347.1 L596.1,349.0 L596.9,350.8 L597.7,352.6 L598.5,354.4 L599.3,356.1 L600.1,357.9 L600.9,359.6 L601.7,361.4 L602.5,363.1 L603.3,364.8 L604.2,366.5 L605.0,368.2 L605.8,369.8 L606.6,371.5 L607.4,373.1 L608.2,374.7 L609.0,376.4 L609.8,378.0 L610.6,379.6 L611.4,381.1 L612.2,382.7 L613.0,384.3 L613.8,385.8 L614.6,387.3 L615.5,388.8 L616.3,390.4 L617.1,391.9 L617.9,393.3 L618.7,394.8 L619.5,396.3 L620.3,397.7 L621.1,399.2 L621.9,400.6 L622.7,402.0 L623.5,403.4 L624.3,404.9 L625.1,406.2 L625.9,407.6 L626.7,409.0 L627.6,410.4 L628.4,411.7 L629.2,413.0 L630.0,414.4 L630.8,415.7 L631.6,417.0 L632.4,418.3 L633.2,419.6 L634.0,420.9 L634.8,422.2 L635.6,423.4 L636.4,424.7 L637.2,425.9 L638.0,427.2 L638.9,428.4 L639.7,429.6 L640.5,430.8 L641.3,432.1 L642.1,433.2 L642.9,434.4 L643.7,435.6 L644.5,436.8 L645.3,437.9 L646.1,439.1 L646.9,440.3 L647.7,441.4 L648.5,442.5 L649.3,443.6 L650.1,444.8 L651.0,445.9 L651.8,447.0 L652.6,448.1 L653.4,449.1 L654.2,450.2 L655.0,451.3 L655.8,452.4 L656.6,453.4 L657.4,454.5 L658.2,455.5 L659.0,456.5 L659.8,457.6 L660.6,458.6 L661.4,459.6 L662.3,460.6 L663.1,461.6 L663.9,462.6 L664.7,463.6 L665.5,464.6 L666.3,465.5 L667.1,466.5 L667.9,467.4 L668.7,468.4 L669.5,469.3 L670.3,470.3 L671.1,471.2 L671.9,472.2 L672.7,473.1 L673.5,474.0 L674.4,474.9 L675.2,475.8 L676.0,476.7 L676.8,477.6 L677.6,478.5 L678.4,479.4 L679.2,480.2 L680.0,481.1 L680.8,482.0 L681.6,482.8 L682.4,483.7 L683.2,484.5 L684.0,485.4 L684.8,486.2 L685.7,487.0 L686.5,487.8 L687.3,488.7 L688.1,489.5 L688.9,490.3 L689.7,491.1 L690.5,491.9 L691.3,492.7 L692.1,493.5 L692.9,494.3 L693.7,495.0 L694.5,495.8 L695.3,496.6 L696.1,497.3 L696.9,498.1 L697.8,498.9 L698.6,499.6 L699.4,500.3 L700.2,501.1 L701.0,501.8 L701.8,502.6 L702.6,503.3 L703.4,504.0 L704.2,504.7 L705.0,505.4 L705.8,506.1 L706.6,506.8 L707.4,507.5 L708.2,508.2 L709.1,508.9 L709.9,509.6 L710.7,510.3 L711.5,511.0 L712.3,511.6 L713.1,512.3 L713.9,513.0 L714.7,513.6 L715.5,514.3 L716.3,515.0 L717.1,515.6 L717.9,516.2 L718.7,516.9 L719.5,517.5 L720.3,518.2 L721.2,518.8 L722.0,519.4 L722.8,520.0 L723.6,520.7 L724.4,521.3 L725.2,521.9 L726.0,522.5 L726.8,523.1 L727.6,523.7 L728.4,524.3 L729.2,524.9 L730.0,525.5 L730.8,526.1 L731.6,526.6 L732.4,527.2 L733.3,527.8 L734.1,528.4 L734.9,528.9 L735.7,529.5 L736.5,530.1 L737.3,530.6 L738.1,531.2 L738.9,531.7 L739.7,532.3 L740.5,532.8 L741.3,533.4 L742.1,533.9 L742.9,534.4 L743.7,535.0 L744.6,535.5 L745.4,536.0 L746.2,536.6 L747.0,537.1 L747.8,537.6 L748.6,538.1 L749.4,538.6 L750.2,539.1 L751.0,539.6 L751.8,540.1 L752.6,540.7 L753.4,541.1 L754.2,541.6 L755.0,542.1 L755.8,542.6 L756.7,543.1 L757.5,543.6 L758.3,544.1 L759.1,544.6 L759.9,545.0 L760.7,545.5 L761.5,546.0 L762.3,546.4 L763.1,546.9 L763.9,547.4 L764.7,547.8 L765.5,548.3 L766.3,548.7 L767.1,549.2 L768.0,549.6 L768.8,550.1 L769.6,550.5 L770.4,551.0 L771.2,551.4 L772.0,551.9 L772.8,552.3 L773.6,552.7 L774.4,553.1 L775.2,553.6 L776.0,554.0 L776.8,554.4 L777.6,554.8 L778.4,555.3 L779.2,555.7 L780.1,556.1 L780.9,556.5 L781.7,556.9 L782.5,557.3 L783.3,557.7 L784.1,558.1 L784.9,558.5 L785.7,558.9 L786.5,559.3 L787.3,559.7 L788.1,560.1 L788.9,560.5 L789.7,560.9 L790.5,561.3 L791.4,561.7 L792.2,562.0 L793.0,562.4 L793.8,562.8 L794.6,563.2 L795.4,563.5 L796.2,563.9 L797.0,564.3 L798.8,565.2"/>
<text class="cl" text-anchor="start" fill="#0000ff" transform="translate(311.2,581.6) scale(0.99,1.055)">10 s</text>
<text class="cl" text-anchor="start" fill="#ff0000" transform="translate(375.4,541.7) scale(0.99,1.055)">1 s</text>
<text class="cl" text-anchor="start" fill="#ff8000" transform="translate(443.2,500.6) scale(0.99,1.055)">0.1 s</text>
<text class="cl" text-anchor="start" fill="#00ff00" transform="translate(515.6,444.0) scale(0.99,1.055)">10 ms</text>
<text class="cl" text-anchor="start" fill="#800080" transform="translate(636.0,379.6) scale(0.99,1.055)">1 ms</text>
</svg>
</body></html>
